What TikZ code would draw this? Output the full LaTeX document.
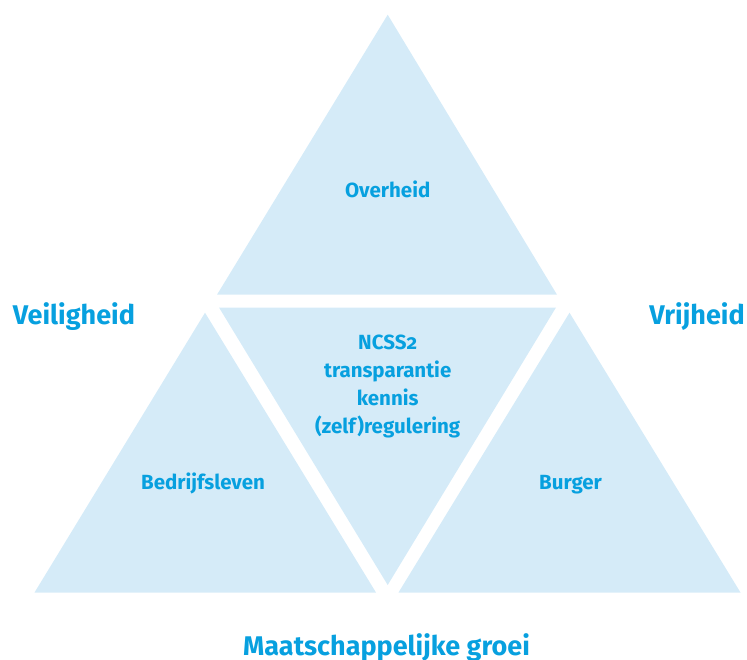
\documentclass[tikz,border=0pt]{standalone}
\usepackage{fontspec}
\setmainfont{Fira Sans}[Numbers=OldStyle]
\definecolor{lichtblauw}{HTML}{D5EBF8}
\definecolor{hemelblauw}{HTML}{07A0DF}
\begin{document}
\begin{tikzpicture}[x=1pt,y=-1pt]
        \tikzstyle{vlak}=[fill=lichtblauw]
        \tikzstyle{klein}=[text=hemelblauw,font=\bfseries\fontsize{20.5}{28}\selectfont,align=center,inner sep=0pt]
        \tikzstyle{groot}=[text=hemelblauw,font=\bfseries\fontsize{27}{30}\selectfont,inner sep=0pt,anchor=base]

        \useasboundingbox (0,0) rectangle (747,659);

        % vier driehoeken
        \fill[vlak] (387.7,14.7) -- (557,294.7) -- (217,294.7) -- cycle;
        \fill[vlak] (219,307.5) -- (556,307.5) -- (387.7,585) -- cycle;
        \fill[vlak] (205,312.7) -- (376,592.5) -- (34.5,592.5) -- cycle;
        \fill[vlak] (569.5,312.7) -- (740.5,592.5) -- (398.5,592.5) -- cycle;

        \draw (387.7,197.7) node[klein,anchor=base] (overheid) {Overheid};
        \draw (387.7,386) node[klein] (ncss) {NCSS2\\transparantie\\kennis\\(zelf)regulering};
        \draw (203,489) node[klein,anchor=base] (bedrijf) {Bedrijfsleven};
        \draw (570.5,489) node[klein,anchor=base] (burger) {Burger};

        \draw (74,324.3) node[groot] (veilig) {Veiligheid};
        \draw (697,324.3) node[groot] (vrij) {Vrijheid};
        \draw (386.5,655) node[groot] (groei) {Maatschappelijke groei};

    \end{tikzpicture}
\end{document}
